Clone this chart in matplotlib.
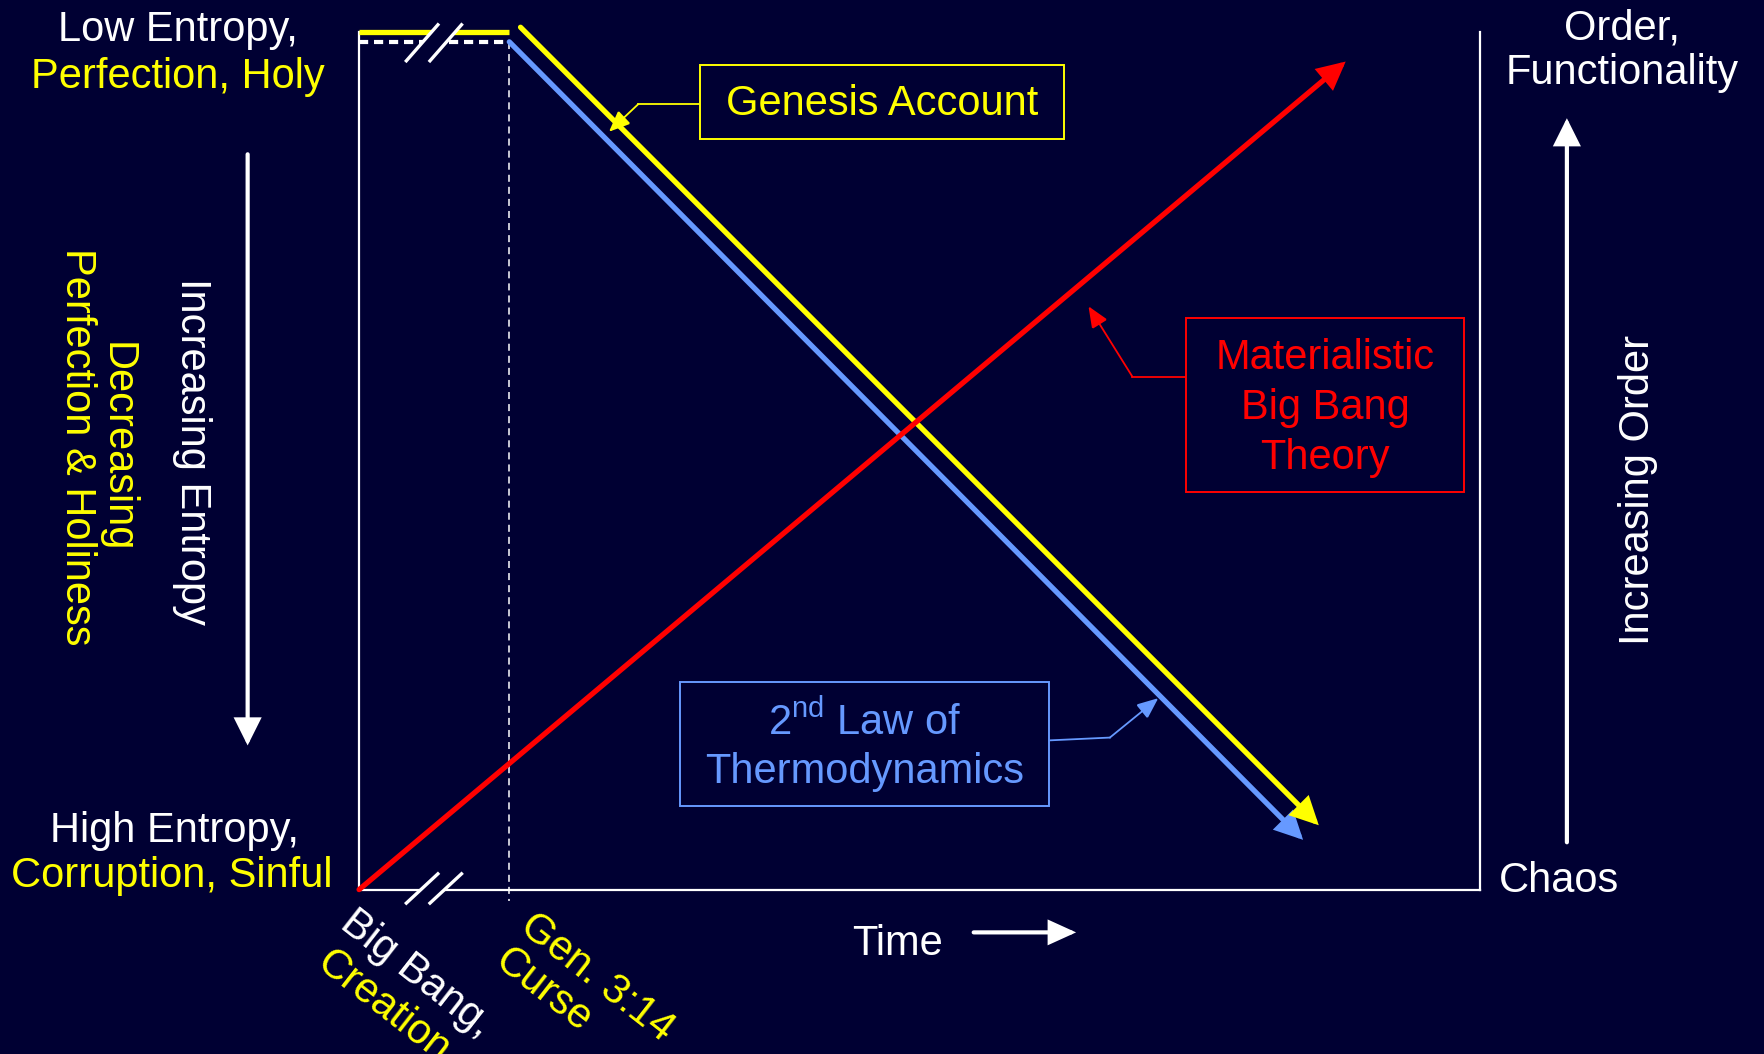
import matplotlib.pyplot as plt
from matplotlib.patches import Rectangle, Polygon

plt.rcParams["font.family"] = ["Liberation Sans", "DejaVu Sans"]
plt.rcParams["mathtext.fontset"] = "custom"
plt.rcParams["mathtext.rm"] = "Liberation Sans"

BG = "#000033"
YELLOW = "#FFFF00"
BLUE = "#6699FF"
RED = "#FF0000"
WHITE = "#FFFFFF"

# time: 0 = creation, 100 = right edge of the box
# order: 0 = chaos / high entropy, 100 = perfection / low entropy
CURSE_T = 13.4
GENESIS_FLAT_T = [0.0, CURSE_T]
GENESIS_FLAT_Y = [99.9, 99.9]
GENESIS_T = [14.4, 85.6]
GENESIS_Y = [100.5, 7.5]
THERMO_FLAT_T = [0.0, CURSE_T]
THERMO_FLAT_Y = [98.8, 98.8]
THERMO_T = [CURSE_T, 84.2]
THERMO_Y = [98.8, 5.8]
BIGBANG_T = [0.0, 88.0]
BIGBANG_Y = [0.0, 96.5]

FS = 30
W, H = 1568, 936  # layout grid for the annotation overlay


def arrow(a, start, end, color, lw, scale, hl=0.9, hw=0.45):
    a.annotate("", xy=end, xytext=start, annotation_clip=False,
               arrowprops=dict(arrowstyle=f"-|>,head_length={hl},head_width={hw}",
                               color=color, lw=lw, shrinkA=0, shrinkB=0,
                               mutation_scale=scale, joinstyle="miter"))


def leader(a, pts, color):
    xs = [p[0] for p in pts[:-1]]
    ys = [p[1] for p in pts[:-1]]
    a.plot(xs, ys, color=color, lw=1.3)
    arrow(a, pts[-2], pts[-1], color, 1.3, 10, hl=1.3, hw=0.55)


fig = plt.figure(figsize=(17.65, 10.54), dpi=100, facecolor=BG)

ax = fig.add_axes([319 / W, 1 - 790 / H, (1315 - 319) / W, (790 - 28) / H])
ax.set_facecolor(BG)
ax.set_xlim(0, 100)
ax.set_ylim(0, 100)
ax.set_xticks([])
ax.set_yticks([])
for s in ["left", "right", "bottom"]:
    ax.spines[s].set_color(WHITE)
    ax.spines[s].set_linewidth(1.6)
ax.spines["top"].set_visible(False)

# pre-curse flat segments
ax.plot(GENESIS_FLAT_T, GENESIS_FLAT_Y, color=YELLOW, lw=3.8,
        solid_capstyle="butt", clip_on=False, zorder=3)
ax.plot(THERMO_FLAT_T, THERMO_FLAT_Y, color=WHITE, lw=3,
        ls=(0, (2.2, 1.4)), clip_on=False, zorder=3)
ax.plot([CURSE_T, CURSE_T], [THERMO_FLAT_Y[0], -1.3], color=WHITE, lw=1.1,
        ls=(0, (4.6, 3.3)), clip_on=False, zorder=2)

# the three trends
arrow(ax, (THERMO_T[0], THERMO_Y[0]), (THERMO_T[1], THERMO_Y[1]), BLUE, 3.8, 16)
arrow(ax, (GENESIS_T[0], GENESIS_Y[0]), (GENESIS_T[1], GENESIS_Y[1]), YELLOW, 3.8, 16)
arrow(ax, (BIGBANG_T[0], BIGBANG_Y[0]), (BIGBANG_T[1], BIGBANG_Y[1]), RED, 3.8, 16)

# overlay for labels and decorations
ov = fig.add_axes([0, 0, 1, 1], facecolor="none")
ov.set_xlim(0, W)
ov.set_ylim(H, 0)
ov.axis("off")

# axis break marks
for (x0, y0, x1, y1) in [(361, 54, 389, 22), (361, 802, 389, 776)]:
    ov.add_patch(Polygon([(x0, y0), (x1, y1), (x1 + 21, y1), (x0 + 21, y0)],
                         closed=True, facecolor=BG, edgecolor="none", zorder=4))
    ov.plot([x0, x1], [y0, y1], color=WHITE, lw=2.4, zorder=5)
    ov.plot([x0 + 21, x1 + 21], [y0, y1], color=WHITE, lw=2.4, zorder=5)

# left side labels
ov.text(158, 36, "Low Entropy,", color=WHITE, fontsize=FS, ha="center", va="baseline")
ov.text(158, 78, "Perfection, Holy", color=YELLOW, fontsize=FS, ha="center", va="baseline")
ov.text(155, 748, "High Entropy,", color=WHITE, fontsize=FS, ha="center", va="baseline")
ov.text(153, 788, "Corruption, Sinful", color=YELLOW, fontsize=FS, ha="center", va="baseline")

ov.text(171, 401, "Increasing Entropy", color=WHITE, fontsize=FS, rotation=270,
        ha="center", va="center")
ov.text(86, 397, "Decreasing\nPerfection & Holiness", color=YELLOW, fontsize=FS,
        rotation=270, ha="center", va="center", multialignment="center",
        linespacing=1.0)
arrow(ov, (220, 137), (220, 662), WHITE, 3.0, 14, hl=1.1, hw=0.55)

# right side labels
ov.text(1441, 35, "Order,", color=WHITE, fontsize=FS, ha="center", va="baseline")
ov.text(1441, 75, "Functionality", color=WHITE, fontsize=FS, ha="center", va="baseline")
ov.text(1385, 792, "Chaos", color=WHITE, fontsize=FS, ha="center", va="baseline")
ov.text(1455, 435, "Increasing Order", color=WHITE, fontsize=FS, rotation=90,
        ha="center", va="center")
arrow(ov, (1392, 748), (1392, 105), WHITE, 3.0, 14, hl=1.1, hw=0.55)

# time axis label
ov.text(797, 848, "Time", color=WHITE, fontsize=FS, ha="center", va="baseline")
arrow(ov, (865, 828), (956, 828), WHITE, 3.0, 14, hl=1.1, hw=0.5)

# rotated event labels
rot = -38
ov.text(301, 823, "Big Bang,", color=WHITE, fontsize=FS, rotation=rot,
        rotation_mode="anchor", ha="left", va="baseline")
ov.text(280, 859, "Creation", color=YELLOW, fontsize=FS, rotation=rot,
        rotation_mode="anchor", ha="left", va="baseline")
ov.text(460, 826, "Gen. 3:14", color=YELLOW, fontsize=FS, rotation=rot,
        rotation_mode="anchor", ha="left", va="baseline")
ov.text(438, 857, "Curse", color=YELLOW, fontsize=FS, rotation=rot,
        rotation_mode="anchor", ha="left", va="baseline")

# labelled boxes with leaders
ov.add_patch(Rectangle((622, 58), 323, 65, facecolor=BG, edgecolor=YELLOW, lw=1.4, zorder=4))
ov.text(783.5, 92, "Genesis Account", color=YELLOW, fontsize=FS, ha="center",
        va="center", zorder=5)
leader(ov, [(622, 92.5), (567, 92.5), (541, 117)], YELLOW)

ov.add_patch(Rectangle((1053.5, 282), 247, 155, facecolor=BG, edgecolor=RED, lw=1.4, zorder=4))
ov.text(1177, 362, "Materialistic\nBig Bang\nTheory", color=RED, fontsize=FS,
        ha="center", va="center", multialignment="center", linespacing=1.32, zorder=5)
leader(ov, [(1053.5, 334.5), (1006, 334.5), (967, 272)], RED)

ov.add_patch(Rectangle((604, 606), 328, 110, facecolor=BG, edgecolor=BLUE, lw=1.4, zorder=4))
ov.text(768, 663, "2$^{\\mathrm{nd}}$ Law of\nThermodynamics", color=BLUE, fontsize=FS,
        ha="center", va="center", multialignment="center", linespacing=1.25, zorder=5)
leader(ov, [(932, 657.5), (986, 655), (1029, 620)], BLUE)

fig.savefig("out.png", dpi=100, facecolor=BG)
